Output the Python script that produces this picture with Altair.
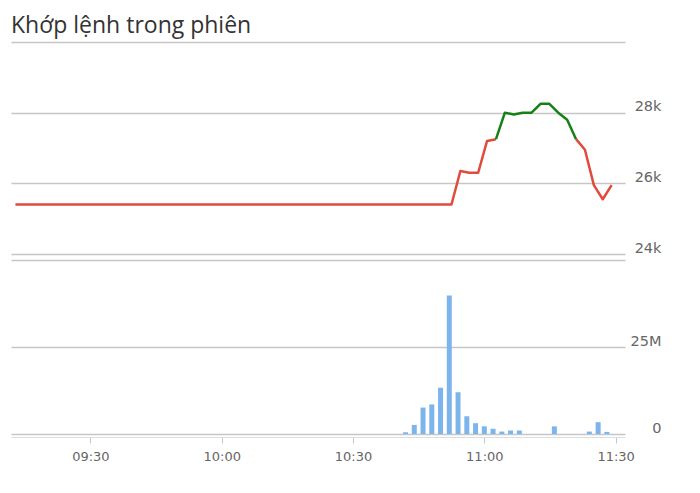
import altair as alt
import pandas as pd

DAY = "2024-01-02T"

# price (VND)
price_times = ["09:14", "10:52", "10:54", "10:56", "10:58", "11:00", "11:02", "11:04",
               "11:06", "11:08", "11:10", "11:12", "11:14", "11:16", "11:18", "11:20",
               "11:22", "11:24", "11:26", "11:28"]
price_vals = [25400, 25400, 26350, 26300, 26300, 27200, 27250, 28000,
              27950, 28000, 28000, 28250, 28250, 28000, 27800, 27250,
              26950, 25950, 25550, 25950]
ref_price = 27250  # zone threshold: green at/above, red below

# matched volume (shares)
vol_times = ["10:42", "10:44", "10:46", "10:48", "10:50", "10:52", "10:54", "10:56",
             "10:58", "11:00", "11:02", "11:04", "11:06", "11:08", "11:16", "11:24",
             "11:26", "11:28"]
vol_vals = [0.5e6, 2.6e6, 7.6e6, 8.5e6, 13.3e6, 39.8e6, 12.0e6, 5.1e6,
            3.1e6, 2.2e6, 1.5e6, 0.7e6, 1.0e6, 1.0e6, 2.2e6, 0.7e6,
            3.4e6, 0.6e6]

RED = "#e04b3c"
GREEN = "#158015"
BLUE = "#7cb5ec"
GRID = "#c6c6c6"
LABEL = "#666666"

# split the line into coloured runs (shared point duplicated at each change)
rows = []
run = 0
prev_col = None
for i in range(len(price_times) - 1):
    a, b = price_vals[i], price_vals[i + 1]
    col = "up" if (a >= ref_price and b >= ref_price) else "down"
    if col != prev_col:
        run += 1
        rows.append({"t": DAY + price_times[i] + ":00", "p": a, "run": run, "zone": col})
        prev_col = col
    rows.append({"t": DAY + price_times[i + 1] + ":00", "p": b, "run": run, "zone": col})
df_price = pd.DataFrame(rows)

df_vol = pd.DataFrame({"t": [DAY + t + ":00" for t in vol_times], "v": vol_vals})

x_domain = [alt.DateTime(year=2024, month=1, date=2, hours=9, minutes=13),
            alt.DateTime(year=2024, month=1, date=2, hours=11, minutes=31)]

y_axis_common = dict(
    orient="right", grid=True, gridColor=GRID, gridWidth=1.5,
    domain=False, ticks=False, labelAlign="right", labelBaseline="bottom",
    labelPadding=36, labelFont="DejaVu Sans", labelFontSize=14.5, labelOffset=1,
    labelColor=LABEL, labelOverlap=False, title=None,
)

price = alt.Chart(df_price).mark_line(strokeWidth=2.5, strokeJoin="round").encode(
    x=alt.X("t:T", scale=alt.Scale(domain=x_domain), axis=None),
    y=alt.Y("p:Q", scale=alt.Scale(domain=[24000, 30000], nice=False, zero=False),
            axis=alt.Axis(values=[24000, 26000, 28000, 30000],
                          labelExpr="datum.value == 30000 ? '' : format(datum.value, '~s')",
                          **y_axis_common)),
    color=alt.Color("zone:N", scale=alt.Scale(domain=["up", "down"], range=[GREEN, RED]),
                    legend=None),
    detail="run:N",
).properties(width=614, height=212)

volume = alt.Chart(df_vol).mark_bar(width=5, color=BLUE).encode(
    x=alt.X("t:T", scale=alt.Scale(domain=x_domain),
            axis=alt.Axis(title=None, format="%H:%M", tickCount=5,
                          labelFlush=False, grid=False, domainColor="#d8dde6", domainWidth=1,
                          offset=3, tickColor="#c8c8c8", tickSize=6, labelPadding=7,
                          labelFont="DejaVu Sans", labelFontSize=13, labelColor=LABEL)),
    y=alt.Y("v:Q", scale=alt.Scale(domain=[0, 50e6], nice=False),
            axis=alt.Axis(values=[0, 25e6, 50e6],
                          labelExpr="datum.value == 50000000 ? '' : format(datum.value, '~s')",
                          **y_axis_common)),
).properties(width=614, height=174)

chart = alt.vconcat(price, volume, spacing=6, bounds="flush").properties(
    title=alt.TitleParams("Khớp lệnh trong phiên", anchor="start", font="Open Sans",
                          fontSize=23, fontWeight="normal", color="#333333", offset=-10),
    padding={"left": 3, "top": 7, "right": 5, "bottom": 5},
).configure_view(stroke=None)

chart.save("out.html", embed_options={"renderer": "svg", "actions": False})
